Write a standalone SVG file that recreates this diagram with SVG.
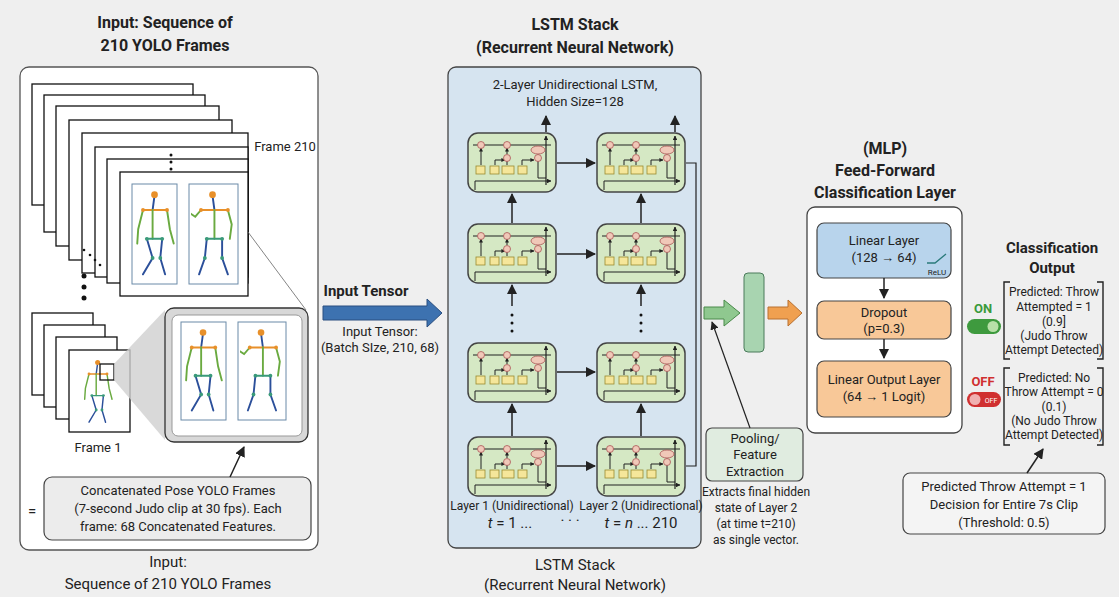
<svg xmlns="http://www.w3.org/2000/svg" xmlns:xlink="http://www.w3.org/1999/xlink" width="1119" height="597" viewBox="0 0 1119 597">
<style>
text{font-family:Roboto,"Liberation Sans",sans-serif;fill:#222;text-anchor:middle}
.t{font-size:16px;font-weight:bold}
.b{font-size:13px}
.l{font-size:15px}
.s{font-size:12px}
.fr{fill:#fff;stroke:#111;stroke-width:1.3}
.pb{fill:none;stroke:#6a8aa8;stroke-width:1}
.cell{fill:#d5e8c4;stroke:#444;stroke-width:1.5}
.ln{fill:none;stroke:#222;stroke-width:1.4}
.c{fill:none;stroke:#222;stroke-width:1.5}
.dot{fill:#111}
</style>
<defs>
<marker id="ah" viewBox="0 0 10 10" refX="9" refY="5" markerWidth="7" markerHeight="7" orient="auto-start-reverse"><path d="M0,0 L10,5 L0,10 z" fill="#222"/></marker>
<marker id="sa" viewBox="0 0 10 10" refX="9" refY="5" markerWidth="4" markerHeight="4" orient="auto"><path d="M0,0 L10,5 L0,10 z" fill="#222"/></marker>
<symbol id="cellsym" viewBox="0 0 90 61" width="90" height="61">
<rect x="1" y="1" width="88" height="59" rx="10" class="cell"/>
<line x1="6" y1="13" x2="84" y2="13" stroke="#222" stroke-width="1.2"/>
<path d="M8,49 H84" stroke="#222" stroke-width="1.2" fill="none" marker-end="url(#sa)"/>
<path d="M8,58 V49" stroke="#222" stroke-width="1"/>
<path d="M14,33 V16" stroke="#222" marker-end="url(#sa)"/>
<path d="M28,33 V28 H38" stroke="#222" fill="none" marker-end="url(#sa)"/>
<path d="M40,33 V28" stroke="#222"/><path d="M40,22 V16" stroke="#222" marker-end="url(#sa)"/>
<path d="M55,33 V28 H67" stroke="#222" fill="none" marker-end="url(#sa)"/>
<path d="M71,28 V46 H79" stroke="#222" fill="none"/>
<path d="M79,53 V4" stroke="#222" stroke-width="1.2" marker-end="url(#sa)"/>
<g fill="#f0c8b8" stroke="#a55" stroke-width="0.8">
<circle cx="14" cy="13" r="3.5"/><circle cx="40" cy="13" r="3.5"/><circle cx="40" cy="26" r="3.5"/><circle cx="71" cy="26" r="3.5"/><ellipse cx="71" cy="18" rx="7" ry="4"/>
</g>
<g fill="#f5e69a" stroke="#9a8a30" stroke-width="0.8">
<rect x="9" y="34" width="9" height="8"/><rect x="23" y="34" width="9" height="8"/><rect x="35" y="34" width="12" height="8"/><rect x="51" y="34" width="9" height="8"/>
</g>
</symbol>
<symbol id="p1" viewBox="0 0 45 100" width="45" height="100">
<g stroke-width="2" fill="none" stroke-linecap="round">
<line x1="22" y1="10" x2="20" y2="25" stroke="#2b4f9a"/>
<line x1="10" y1="25" x2="35" y2="25" stroke="#e8902a"/>
<path d="M10,25 L5,45 L4,60" stroke="#6aaa40"/>
<path d="M35,25 L38,45 L42,60" stroke="#6aaa40"/>
<line x1="20" y1="25" x2="20" y2="55" stroke="#6aaa40"/>
<line x1="14" y1="55" x2="30" y2="55" stroke="#3a9a7a"/>
<path d="M14,55 L20,75 L10,92" stroke="#2b4f9a"/>
<path d="M30,55 L28,75 L33,92" stroke="#2b4f9a"/>
</g>
<circle cx="22" cy="9" r="3.5" fill="#e8902a"/>
<g fill="#e8902a"><circle cx="10" cy="25" r="2"/><circle cx="35" cy="25" r="2"/></g>
<g fill="#3a9a7a"><circle cx="14" cy="55" r="2"/><circle cx="30" cy="55" r="2"/><circle cx="20" cy="75" r="2"/><circle cx="28" cy="75" r="2"/></g>
</symbol>
<symbol id="p2" viewBox="0 0 45 100" width="45" height="100">
<g stroke-width="2" fill="none" stroke-linecap="round">
<line x1="22" y1="10" x2="24" y2="25" stroke="#2b4f9a"/>
<line x1="10" y1="25" x2="38" y2="25" stroke="#e8902a"/>
<path d="M10,25 L4,32 L-2,28" stroke="#6aaa40"/>
<path d="M38,25 L42,40 L40,55" stroke="#6aaa40"/>
<line x1="24" y1="25" x2="24" y2="55" stroke="#6aaa40"/>
<line x1="16" y1="55" x2="32" y2="55" stroke="#3a9a7a"/>
<path d="M16,55 L14,75 L8,92" stroke="#2b4f9a"/>
<path d="M32,55 L32,75 L38,92" stroke="#2b4f9a"/>
</g>
<circle cx="22" cy="9" r="3.5" fill="#e8902a"/>
<g fill="#e8902a"><circle cx="10" cy="25" r="2"/><circle cx="38" cy="25" r="2"/></g>
<g fill="#3a9a7a"><circle cx="16" cy="55" r="2"/><circle cx="32" cy="55" r="2"/><circle cx="14" cy="75" r="2"/><circle cx="32" cy="75" r="2"/></g>
</symbol>
</defs>
<rect width="1119" height="597" fill="#efefef"/>

<g id="input-panel">
<text class="t" x="165" y="28">Input: Sequence of</text>
<text class="t" x="165" y="51">210 YOLO Frames</text>
<rect x="20" y="67" width="298" height="483" rx="9" fill="#fff" stroke="#555" stroke-width="1.3"/>
<rect class="fr" x="32" y="84" width="161" height="121"/>
<rect class="fr" x="44" y="95" width="161" height="137"/>
<rect class="fr" x="56" y="106" width="163" height="140"/>
<rect class="fr" x="69" y="120" width="163" height="140"/>
<rect class="fr" x="82" y="133" width="166" height="140"/>
<rect class="fr" x="95" y="147" width="153" height="130"/>
<rect class="fr" x="107" y="159" width="141" height="124"/>
<rect class="fr" x="120" y="172" width="128" height="124"/>
<rect class="pb" x="132" y="184" width="45" height="100"/>
<rect class="pb" x="189" y="184" width="49" height="100"/>
<use href="#p1" x="133" y="186" width="44" height="96"/>
<use href="#p2" x="191" y="186" width="44" height="96"/>
<text class="b" x="285" y="151">Frame 210</text>
<circle class="dot" cx="171" cy="155" r="1.5"/><circle class="dot" cx="171" cy="162" r="1.5"/><circle class="dot" cx="171" cy="169" r="1.5"/>
<circle class="dot" cx="84" cy="250" r="1.3"/><circle class="dot" cx="90" cy="255" r="1.3"/><circle class="dot" cx="95" cy="260" r="1.3"/><circle class="dot" cx="100" cy="265" r="1.3"/>
<circle class="dot" cx="84" cy="276" r="2.5"/><circle class="dot" cx="84" cy="287" r="2.5"/><circle class="dot" cx="84" cy="298" r="2.5"/>
<rect class="fr" x="32" y="313" width="61" height="82"/>
<rect class="fr" x="44" y="325" width="61" height="82"/>
<rect class="fr" x="56" y="337" width="61" height="82"/>
<rect class="fr" x="69" y="350" width="61" height="82"/>
<use href="#p1" x="80" y="356" width="36" height="72"/>
<rect x="100" y="364" width="14" height="16" fill="none" stroke="#111" stroke-width="1.3"/>
<polygon points="114,364 165,310 165,440 114,380" fill="#cfcfcf" opacity="0.8"/>
<line x1="248" y1="232" x2="306" y2="310" stroke="#666" stroke-width="0.8"/>
<rect x="165" y="308" width="143" height="134" rx="9" fill="#d8d8d8" stroke="#333" stroke-width="1.3"/>
<rect x="172" y="315" width="130" height="121" rx="6" fill="#fff" stroke="#999"/>
<rect class="pb" x="181" y="322" width="45" height="98"/>
<rect class="pb" x="238" y="322" width="48" height="98"/>
<use href="#p1" x="182" y="324" width="43" height="94"/>
<use href="#p2" x="240" y="324" width="43" height="94"/>
<text class="b" x="98" y="452">Frame 1</text>
<text class="l" x="32" y="516">=</text>
<rect x="44" y="477" width="267" height="63" rx="8" fill="#ececec" stroke="#444" stroke-width="1.2"/>
<text class="b" x="178" y="495">Concatenated Pose YOLO Frames</text>
<text class="b" x="178" y="513">(7-second Judo clip at 30 fps). Each</text>
<text class="b" x="178" y="531">frame: 68 Concatenated Features.</text>
<text class="l" x="168" y="567">Input:</text>
<text class="l" x="168" y="589">Sequence of 210 YOLO Frames</text>
</g>

<g id="input-tensor">
<text class="t" x="366" y="296" style="font-size:15px">Input Tensor</text>
<polygon points="323,306 427,306 427,299 442,313 427,327 427,320 323,320" fill="#3d72b0" stroke="#2a4f80"/>
<text class="b" x="380" y="336">Input Tensor:</text>
<text class="b" x="380" y="352">(Batch SIze, 210, 68)</text>
</g>

<g id="lstm-stack">
<text class="t" x="575" y="30">LSTM Stack</text>
<text class="t" x="575" y="53">(Recurrent Neural Network)</text>
<rect x="448" y="67" width="253" height="481" rx="8" fill="#d6e4f0" stroke="#444" stroke-width="1.3"/>
<text class="b" x="575" y="89">2-Layer Unidirectional LSTM,</text>
<text class="b" x="575" y="106">Hidden Size=128</text>
<use href="#cellsym" x="467" y="132"/>
<use href="#cellsym" x="596" y="132"/>
<use href="#cellsym" x="467" y="223"/>
<use href="#cellsym" x="596" y="223"/>
<use href="#cellsym" x="467" y="342"/>
<use href="#cellsym" x="596" y="342"/>
<use href="#cellsym" x="467" y="436"/>
<use href="#cellsym" x="596" y="436"/>
<text class="s" x="512" y="510">Layer 1 (Unidirectional)</text>
<text class="s" x="641" y="510">Layer 2 (Unidirectional)</text>
<text x="510" y="528" style="font-size:15px"><tspan font-style="italic">t</tspan> = 1 ...</text>
<text x="570" y="526" style="font-size:15px">· · ·</text>
<text x="641" y="528" style="font-size:15px"><tspan font-style="italic">t</tspan> = <tspan font-style="italic">n</tspan> ... 210</text>
<text class="l" x="575" y="570">LSTM Stack</text>
<text class="l" x="575" y="590">(Recurrent Neural Network)</text>
</g>

<g id="pooling">
<polygon points="704,307 724,307 724,300 740,313 724,326 724,319 704,319" fill="#8fc88f" stroke="#4a8a4a"/>
<rect x="744" y="273" width="20" height="79" rx="4" fill="#a8d4b0" stroke="#4a7a5a"/>
<polygon points="768,307 788,307 788,300 802,313 788,326 788,319 768,319" fill="#f0a050" stroke="#b87030"/>
<rect x="706" y="428" width="97" height="53" rx="6" fill="#e0ece0" stroke="#444" stroke-width="1.2"/>
<text class="b" x="755" y="443">Pooling/</text>
<text class="b" x="755" y="459">Feature</text>
<text class="b" x="755" y="476">Extraction</text>
<text class="s" x="756" y="496">Extracts final hidden</text>
<text class="s" x="756" y="512">state of Layer 2</text>
<text class="s" x="756" y="528">(at time t=210)</text>
<text class="s" x="756" y="544">as single vector.</text>
</g>

<g id="mlp">
<text class="t" x="885" y="154">(MLP)</text>
<text class="t" x="885" y="176">Feed-Forward</text>
<text class="t" x="885" y="198">Classification Layer</text>
<rect x="807" y="207" width="155" height="226" rx="8" fill="#fff" stroke="#444" stroke-width="1.3"/>
<rect x="817" y="223" width="134" height="55" rx="7" fill="#b8d4ec" stroke="#444" stroke-width="1.2"/>
<text class="b" x="884" y="245">Linear Layer</text>
<text class="b" x="884" y="262">(128 → 64)</text>
<path d="M927,263 H935 L946,254" stroke="#2a7a7a" stroke-width="1.3" fill="none"/>
<text x="937" y="275" style="font-size:8px">ReLU</text>
<rect x="817" y="301" width="134" height="38" rx="7" fill="#f8c898" stroke="#444" stroke-width="1.2"/>
<text class="b" x="884" y="317">Dropout</text>
<text class="b" x="884" y="333">(p=0.3)</text>
<rect x="817" y="361" width="134" height="56" rx="7" fill="#f8c898" stroke="#444" stroke-width="1.2"/>
<text class="b" x="884" y="384">Linear Output Layer</text>
<text class="b" x="884" y="401">(64 → 1 Logit)</text>
</g>

<g id="classification-output">
<text class="t" x="1052" y="253" style="font-size:15px">Classification</text>
<text class="t" x="1052" y="273" style="font-size:15px">Output</text>
<text x="983" y="313" style="font-size:13px;font-weight:bold;fill:#3a9a3a">ON</text>
<rect x="967" y="319" width="34" height="15" rx="7.5" fill="#3e9a3e"/>
<circle cx="993" cy="326.5" r="5.5" fill="#b8e0a8"/>
<text x="983" y="386" style="font-size:13px;font-weight:bold;fill:#d03030">OFF</text>
<rect x="967" y="392" width="34" height="15" rx="7.5" fill="#d03030"/>
<circle cx="975" cy="399.5" r="5.5" fill="#f0b0b0"/>
<text x="991" y="403" style="font-size:7px;fill:#fff">OFF</text>
<path d="M1010,282 H1004 V359 H1010 M1097,282 H1103 V359 H1097" class="ln"/>
<text class="s" x="1054" y="296">Predicted: Throw</text>
<text class="s" x="1054" y="311">Attempted = 1</text>
<text class="s" x="1054" y="326">(0.9]</text>
<text class="s" x="1054" y="340">(Judo Throw</text>
<text class="s" x="1054" y="354">Attempt Detected)</text>
<path d="M1010,368 H1004 V445 H1010 M1097,368 H1103 V445 H1097" class="ln"/>
<text class="s" x="1054" y="382">Predicted: No</text>
<text class="s" x="1054" y="396">Throw Attempt = 0</text>
<text class="s" x="1054" y="411">(0.1)</text>
<text class="s" x="1054" y="425">(No Judo Throw</text>
<text class="s" x="1054" y="439">Attempt Detected)</text>
<rect x="903" y="473" width="202" height="61" rx="7" fill="#f4f4f4" stroke="#444" stroke-width="1.2"/>
<text class="b" x="1004" y="491">Predicted Throw Attempt = 1</text>
<text class="b" x="1004" y="509">Decision for Entire 7s Clip</text>
<text class="b" x="1004" y="527">(Threshold: 0.5)</text>
</g>

<g id="connectors">
<path class="c" d="M230,477 L244,447" marker-end="url(#ah)"/>
<path class="c" d="M557,163 H595" marker-end="url(#ah)"/>
<path class="c" d="M557,254 H595" marker-end="url(#ah)"/>
<path class="c" d="M557,372 H595" marker-end="url(#ah)"/>
<path class="c" d="M557,466 H595" marker-end="url(#ah)"/>
<path class="c" d="M512,223 V194" marker-end="url(#ah)"/>
<path class="c" d="M641,223 V194" marker-end="url(#ah)"/>
<path class="c" d="M512,436 V404" marker-end="url(#ah)"/>
<path class="c" d="M641,436 V404" marker-end="url(#ah)"/>
<path class="c" d="M512,306 V285" marker-end="url(#ah)"/>
<path class="c" d="M641,306 V285" marker-end="url(#ah)"/>
<path class="c" d="M546,132 V116" marker-end="url(#ah)"/>
<path class="c" d="M675,132 V116" marker-end="url(#ah)"/>
<g class="dot"><circle cx="512" cy="315" r="1.5"/><circle cx="512" cy="323" r="1.5"/><circle cx="512" cy="331" r="1.5"/><circle cx="641" cy="315" r="1.5"/><circle cx="641" cy="323" r="1.5"/><circle cx="641" cy="331" r="1.5"/></g>
<path d="M686,163 H696 V466 H686" fill="none" stroke="#222" stroke-width="1.2"/>
<path d="M750,428 L712,322" stroke="#222" stroke-width="1.2" fill="none" marker-end="url(#ah)"/>
<path class="c" d="M884,278 V298" marker-end="url(#ah)"/>
<path class="c" d="M884,339 V358" marker-end="url(#ah)"/>
<path class="c" d="M1027,473 L1043,449" marker-end="url(#ah)"/>
</g>
</svg>
